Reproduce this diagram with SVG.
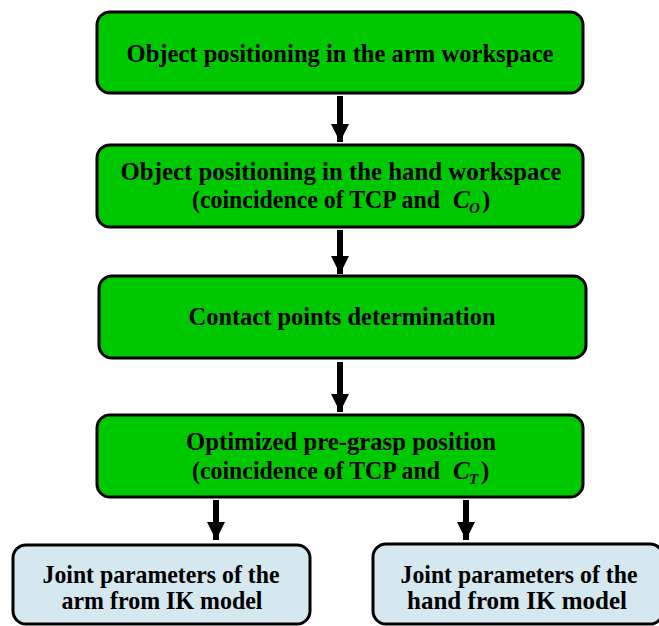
<svg xmlns="http://www.w3.org/2000/svg" width="659" height="626" viewBox="0 0 659 626">
<defs>
<style>
.g{fill:#00C800;stroke:#000;stroke-width:3}
.b{fill:#D5E8EF;stroke:#000;stroke-width:3}
.t{font-family:"Liberation Serif","Times New Roman",serif;font-weight:bold;font-size:25px;fill:#000;text-anchor:middle}
.s{text-anchor:start}
.m{font-style:italic;text-anchor:start}
.sub{font-size:15px}
.c{stroke:#000;stroke-width:6;fill:none}
</style>
<marker id="ah" markerUnits="userSpaceOnUse" markerWidth="18" markerHeight="18" refX="18" refY="9" orient="auto" viewBox="0 0 18 18">
<path d="M0,0 L18,9 L0,18 Z" fill="#000"/>
</marker>
</defs>
<rect width="659" height="626" fill="#fff"/>
<g id="n1"><rect class="g" x="97" y="12" width="486" height="81" rx="13"/>
<text class="t" x="340" y="62" textLength="427" lengthAdjust="spacingAndGlyphs">Object positioning in the arm workspace</text></g>
<g id="n2"><rect class="g" x="97" y="145" width="486" height="82" rx="13"/>
<text class="t" x="341" y="180" textLength="441" lengthAdjust="spacingAndGlyphs">Object positioning in the hand workspace</text>
<text class="t s" x="192" y="208" textLength="248" lengthAdjust="spacingAndGlyphs">(coincidence of TCP and</text>
<text class="t m" x="453" y="208">C</text>
<text class="t m sub" x="469" y="213">O</text>
<text class="t s" x="482" y="208">)</text></g>
<g id="n3"><rect class="g" x="99" y="276" width="487" height="82" rx="13"/>
<text class="t" x="342" y="325" textLength="307" lengthAdjust="spacingAndGlyphs">Contact points determination</text></g>
<g id="n4"><rect class="g" x="97" y="415" width="486" height="82" rx="13"/>
<text class="t" x="341" y="450" textLength="310" lengthAdjust="spacingAndGlyphs">Optimized pre-grasp position</text>
<text class="t s" x="192" y="479" textLength="248" lengthAdjust="spacingAndGlyphs">(coincidence of TCP and</text>
<text class="t m" x="453" y="479">C</text>
<text class="t m sub" x="469" y="484">T</text>
<text class="t s" x="481" y="479">)</text></g>
<g id="n5"><rect class="b" x="13" y="545" width="297" height="79" rx="13"/>
<text class="t" x="161" y="583" textLength="237" lengthAdjust="spacingAndGlyphs">Joint parameters of the</text>
<text class="t" x="162" y="609" textLength="201" lengthAdjust="spacingAndGlyphs">arm from IK model</text></g>
<g id="n6"><rect class="b" x="373" y="544" width="290" height="80" rx="13"/>
<text class="t" x="519" y="583" textLength="237" lengthAdjust="spacingAndGlyphs">Joint parameters of the</text>
<text class="t" x="517" y="609" textLength="220" lengthAdjust="spacingAndGlyphs">hand from IK model</text></g>
<g id="connectors">
<line class="c" x1="340" y1="96" x2="340" y2="142" marker-end="url(#ah)"/>
<line class="c" x1="340" y1="230" x2="340" y2="274" marker-end="url(#ah)"/>
<line class="c" x1="340" y1="362" x2="340" y2="412" marker-end="url(#ah)"/>
<line class="c" x1="216" y1="500" x2="216" y2="540" marker-end="url(#ah)"/>
<line class="c" x1="466" y1="500" x2="466" y2="540" marker-end="url(#ah)"/>
</g>
</svg>
